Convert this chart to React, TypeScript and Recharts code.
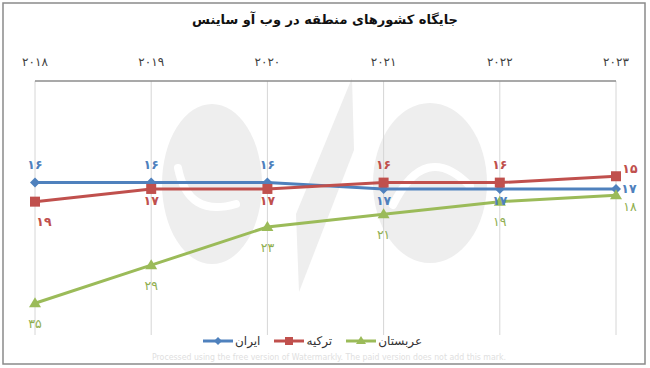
import React from "react";
import { LineChart, Line, XAxis, YAxis, CartesianGrid, Legend, LabelList } from "recharts";

const years = ["2018", "2019", "2020", "2021", "2022", "2023"];
const iran = [16, 16, 16, 17, 17, 17];
const turkey = [19, 17, 17, 16, 16, 15];
const saudi = [35, 29, 23, 21, 19, 18];

const seriesNames = { iran: "ایران", turkey: "ترکیه", saudi: "عربستان" };

const BLUE = "#4F81BD";
const RED = "#C0504D";
const GREEN = "#9BBB59";

// where each data label sits relative to its point
const iranLabelPos = ["top", "top", "top", "below", "below", "right"];
const turkeyLabelPos = ["belowRight", "below", "below", "top", "top", "topRight"];
const saudiLabelPos = ["under", "under", "under", "under", "under", "underRight"];

const labelOffsets: Record<string, [number, number]> = {
  top: [0, -18],
  below: [0, 12],
  right: [13, 0],
  belowRight: [9, 20],
  topRight: [14, -8],
  under: [0, 20],
  underRight: [14, 11],
};

const FONT = "'DejaVu Sans', 'Noto Sans', sans-serif";

const fa = (v: string | number) =>
  String(v).replace(/\d/g, (d) => "۰۱۲۳۴۵۶۷۸۹"[Number(d)]);

const chartData = years.map((year, i) => ({
  year,
  iran: iran[i],
  turkey: turkey[i],
  saudi: saudi[i],
}));

function makeLabel(placement: string[], color: string, weight: string | number) {
  return (p: any) => {
    const [dx, dy] = labelOffsets[placement[p.index]] || [0, 0];
    return (
      <text
        key={`l-${p.index}`}
        x={Number(p.x) + dx}
        y={Number(p.y) + dy}
        textAnchor="middle"
        dominantBaseline="central"
        fill={color}
        fontSize={12.5}
        fontWeight={weight}
        fontFamily={FONT}
      >
        {fa(p.value)}
      </text>
    );
  };
}

const diamondDot = (p: any) => (
  <path
    key={`d-${p.index}`}
    d={`M${p.cx},${p.cy - 5} L${p.cx + 5},${p.cy} L${p.cx},${p.cy + 5} L${p.cx - 5},${p.cy} Z`}
    fill={BLUE}
  />
);

const squareDot = (p: any) => (
  <rect key={`s-${p.index}`} x={p.cx - 5} y={p.cy - 5} width={10} height={10} fill={RED} />
);

const triangleDot = (p: any) => (
  <path
    key={`t-${p.index}`}
    d={`M${p.cx},${p.cy - 6} L${p.cx + 6},${p.cy + 4} L${p.cx - 6},${p.cy + 4} Z`}
    fill={GREEN}
  />
);

function LegendIcon({ color, kind }: { color: string; kind: string }) {
  return (
    <svg width={30} height={10} style={{ display: "block" }}>
      <line x1={0} y1={5} x2={30} y2={5} stroke={color} strokeWidth={3} />
      {kind === "diamond" && <path d="M15,1 L19,5 L15,9 L11,5 Z" fill={color} />}
      {kind === "square" && <rect x={11} y={1} width={8} height={8} fill={color} />}
      {kind === "triangle" && <path d="M15,0 L20,8 L10,8 Z" fill={color} />}
    </svg>
  );
}

const legendItems = [
  { name: seriesNames.iran, color: BLUE, kind: "diamond" },
  { name: seriesNames.turkey, color: RED, kind: "square" },
  { name: seriesNames.saudi, color: GREEN, kind: "triangle" },
];

function ChartLegend() {
  return (
    <div style={{ display: "flex", alignItems: "center", gap: 14, fontFamily: FONT, fontSize: 12, color: "#333", lineHeight: "14px" }}>
      {legendItems.map((it) => (
        <div key={it.name} style={{ display: "flex", alignItems: "center", gap: 2 }}>
          <LegendIcon color={it.color} kind={it.kind} />
          <span>{it.name}</span>
        </div>
      ))}
    </div>
  );
}

export default function App() {
  return (
    <div style={{ position: "absolute", left: 0, top: 0, width: 650, height: 368, background: "#fff" }}>
      {/* background: frame + faint logo watermark */}
      <svg width={650} height={368} style={{ position: "absolute", left: 0, top: 0 }}>
        <rect x={3} y={3} width={642} height={361} fill="none" stroke="#8a8a8a" strokeWidth={1.5} />
        <g fill="#eeeeee">
          <ellipse cx={212} cy={184} rx={50} ry={80} />
          <ellipse cx={430} cy={183} rx={57} ry={80} />
          <path d="M352,78 L354,150 L299,292 L296,214 Z" />
        </g>
        <g fill="none" stroke="#fff" strokeWidth={8} strokeLinecap="round">
          <path d="M178,168 Q188,218 236,204" />
          <path d="M393,205 Q425,140 470,186" />
        </g>
      </svg>
      <div
        style={{
          position: "absolute",
          top: 12,
          left: 0,
          width: 650,
          textAlign: "center",
          fontFamily: FONT,
          fontWeight: "bold",
          fontSize: 13,
          color: "#111",
        }}
      >
        جایگاه کشورهای منطقه در وب آو ساینس
      </div>
      <div style={{ position: "absolute", left: 0, top: 0 }}>
        <LineChart width={650} height={368} data={chartData} margin={{ top: 51, right: 34, bottom: 33, left: 35 }}>
          <CartesianGrid horizontal={false} stroke="#d6d6d6" />
          <XAxis
            dataKey="year"
            orientation="top"
            height={30}
            axisLine={{ stroke: "#8c8c8c", strokeWidth: 1.5 }}
            tickLine={false}
            tickSize={0}
            tickMargin={15}
            tickFormatter={fa}
            tick={{ fill: "#404040", fontSize: 12, fontFamily: FONT }}
            interval={0}
          />
          <YAxis hide domain={[0, 40]} reversed />
          <Legend
            verticalAlign="middle"
            align="center"
            layout="horizontal"
            content={() => <ChartLegend />}
            wrapperStyle={{ top: 334, left: 203, width: 240, height: 14 }}
          />
          <Line
            dataKey="iran"
            name={seriesNames.iran}
            stroke={BLUE}
            strokeWidth={3}
            dot={diamondDot}
            activeDot={false}
            isAnimationActive={false}
          >
            <LabelList dataKey="iran" content={makeLabel(iranLabelPos, BLUE, "bold")} />
          </Line>
          <Line
            dataKey="turkey"
            name={seriesNames.turkey}
            stroke={RED}
            strokeWidth={3}
            dot={squareDot}
            activeDot={false}
            isAnimationActive={false}
          >
            <LabelList dataKey="turkey" content={makeLabel(turkeyLabelPos, RED, "bold")} />
          </Line>
          <Line
            dataKey="saudi"
            name={seriesNames.saudi}
            stroke={GREEN}
            strokeWidth={3}
            dot={triangleDot}
            activeDot={false}
            isAnimationActive={false}
          >
            <LabelList dataKey="saudi" content={makeLabel(saudiLabelPos, "#8fae4f", "normal")} />
          </Line>
        </LineChart>
      </div>
      <svg width={650} height={368} style={{ position: "absolute", left: 0, top: 0, pointerEvents: "none" }}>
        <text
          x={152}
          y={360}
          textLength={354}
          lengthAdjust="spacingAndGlyphs"
          fontSize={9}
          fontFamily={FONT}
          fill="#e0e0e0"
        >
          Processed using the free version of Watermarkly. The paid version does not add this mark.
        </text>
      </svg>
    </div>
  );
}
